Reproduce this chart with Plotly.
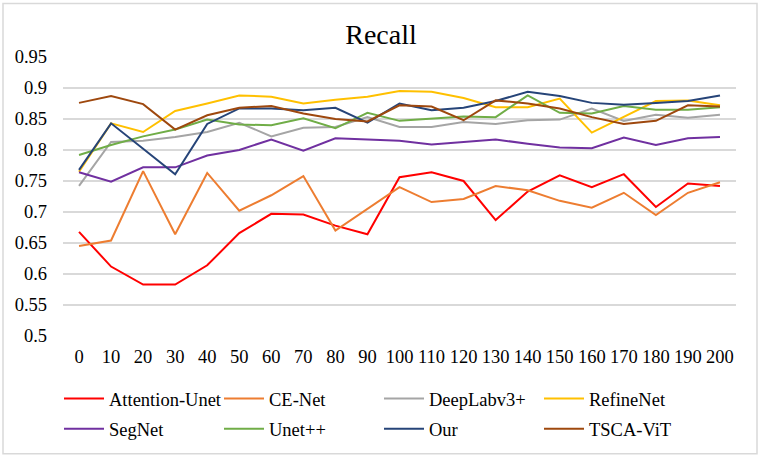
import plotly.graph_objects as go

epochs = [0, 10, 20, 30, 40, 50, 60, 70, 80, 90, 100, 110, 120, 130, 140, 150, 160, 170, 180, 190, 200]

attention_unet = [0.668, 0.612, 0.583, 0.583, 0.614, 0.666, 0.697, 0.696, 0.678, 0.664, 0.756,
                  0.764, 0.750, 0.687, 0.733, 0.759, 0.740, 0.761, 0.708, 0.746, 0.742]
ce_net = [0.645, 0.654, 0.766, 0.664, 0.763, 0.702, 0.727, 0.758, 0.670, 0.705, 0.740,
          0.716, 0.721, 0.742, 0.735, 0.718, 0.707, 0.731, 0.695, 0.731, 0.748]
deeplabv3 = [0.742, 0.813, 0.815, 0.821, 0.829, 0.844, 0.822, 0.836, 0.837, 0.853, 0.837,
             0.837, 0.845, 0.842, 0.848, 0.849, 0.867, 0.847, 0.857, 0.852, 0.857]
refinenet = [0.765, 0.843, 0.829, 0.863, 0.875, 0.888, 0.886, 0.875, 0.881, 0.886, 0.895,
             0.894, 0.884, 0.869, 0.869, 0.883, 0.828, 0.853, 0.879, 0.880, 0.872]
segnet = [0.764, 0.749, 0.772, 0.772, 0.791, 0.800, 0.817, 0.799, 0.819, 0.817, 0.815,
          0.809, 0.813, 0.817, 0.810, 0.804, 0.803, 0.820, 0.808, 0.819, 0.821]
unetpp = [0.792, 0.808, 0.822, 0.833, 0.849, 0.841, 0.840, 0.851, 0.835, 0.860, 0.847,
          0.851, 0.854, 0.853, 0.888, 0.860, 0.859, 0.871, 0.865, 0.865, 0.869]
our = [0.768, 0.843, 0.802, 0.761, 0.842, 0.867, 0.867, 0.864, 0.868, 0.844, 0.875,
       0.864, 0.868, 0.879, 0.894, 0.887, 0.876, 0.873, 0.876, 0.879, 0.888]
tsca_vit = [0.876, 0.887, 0.874, 0.833, 0.856, 0.868, 0.871, 0.859, 0.850, 0.846, 0.872,
            0.870, 0.848, 0.880, 0.875, 0.867, 0.853, 0.842, 0.847, 0.872, 0.870]

y_ticks = [0.5, 0.55, 0.6, 0.65, 0.7, 0.75, 0.8, 0.85, 0.9, 0.95]
y_tick_text = ["0.5", "0.55", "0.6", "0.65", "0.7", "0.75", "0.8", "0.85", "0.9", "0.95"]

series = [
    ("Attention-Unet", attention_unet, "#FF0000", "legend"),
    ("CE-Net", ce_net, "#ED7D31", "legend"),
    ("DeepLabv3+", deeplabv3, "#A5A5A5", "legend"),
    ("RefineNet", refinenet, "#FFC000", "legend"),
    ("SegNet", segnet, "#7030A0", "legend2"),
    ("Unet++", unetpp, "#70AD47", "legend2"),
    ("Our", our, "#264478", "legend2"),
    ("TSCA-ViT", tsca_vit, "#9E480E", "legend2"),
]

W, H = 762, 460
ML, MR, MT, MB = 63, 26, 57, 122
PW, PH = W - ML - MR, H - MT - MB

def px_x(p):
    return (p - ML) / PW

def px_y(p):
    return (H - MB - p) / PH

FONT = "Liberation Serif, Times New Roman, serif"
FS = 18.5

fig = go.Figure()
for name, vals, color, leg in series:
    fig.add_trace(go.Scatter(x=epochs, y=vals, name=name, mode="lines",
                             line=dict(color=color, width=2), legend=leg))

legend_common = dict(orientation="h", xanchor="left", yanchor="middle",
                     entrywidth=105, entrywidthmode="pixels", itemwidth=40,
                     font=dict(family=FONT, size=FS, color="#000000"),
                     bgcolor="rgba(0,0,0,0)", tracegroupgap=0)

fig.update_layout(
    width=W, height=H,
    margin=dict(l=ML, r=MR, t=MT, b=MB),
    paper_bgcolor="white", plot_bgcolor="white",
    font=dict(family=FONT, size=FS, color="#000000"),
    title=dict(text="Recall", x=0.5, xref="container", xanchor="center",
               y=1 - 34 / H, yref="container", yanchor="middle",
               font=dict(family=FONT, size=28, color="#000000")),
    xaxis=dict(range=[-5, 205], tickmode="array", tickvals=epochs,
               ticktext=[str(e) for e in epochs], showgrid=False, zeroline=False,
               showline=False, ticks="", ticklabelstandoff=7,
               tickfont=dict(family=FONT, size=FS, color="#000000")),
    yaxis=dict(range=[0.5, 0.95], tickmode="array", tickvals=y_ticks, ticktext=y_tick_text,
               showgrid=True, gridcolor="#D9D9D9", gridwidth=1.5, zeroline=False,
               showline=False, ticks="", ticklabelstandoff=15,
               tickfont=dict(family=FONT, size=FS, color="#000000")),
    legend=dict(x=px_x(59), y=px_y(401.5), **legend_common),
    legend2=dict(x=px_x(59), y=px_y(432), **legend_common),
    showlegend=True,
    shapes=[dict(type="rect", xref="paper", yref="paper",
                 x0=px_x(3), x1=px_x(757), y0=px_y(456.5), y1=px_y(3),
                 line=dict(color="#D9D9D9", width=1.5), fillcolor="rgba(0,0,0,0)",
                 layer="below")],
)

fig.write_html("out.html",
               config={"displayModeBar": False},
               post_script="document.body.style.margin='0';document.body.style.padding='0';")
